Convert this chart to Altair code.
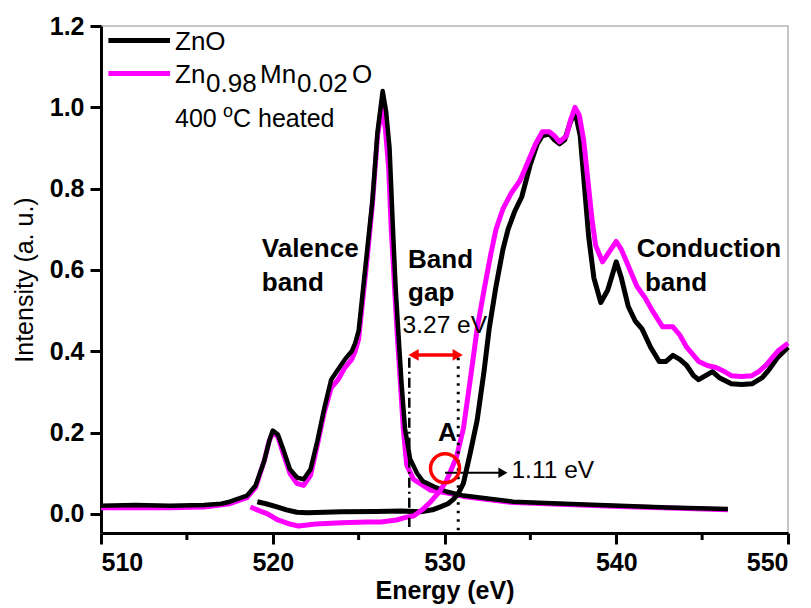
import altair as alt
import pandas as pd

# ---------------- data ----------------
# ZnO valence band (emission)
zno_vb_e = [510, 512, 514, 516, 517, 517.5, 518.5, 519.0, 519.5, 519.8, 520.0, 520.3, 520.6,
            521.0, 521.4, 521.8, 522.2, 522.6, 523.0, 523.4, 523.8, 524.2, 524.6, 524.8, 525.0,
            525.2, 525.5, 525.8, 526.1, 526.4, 526.6, 526.8, 527.0, 527.15, 527.3, 527.5, 527.7,
            528.0, 528.4, 528.75, 529.5, 530.1, 531.1, 534.0, 537.0, 540.2, 543.0, 546.5]
zno_vb_i = [0.02, 0.022, 0.02, 0.022, 0.025, 0.03, 0.045, 0.07, 0.13, 0.18, 0.205, 0.195, 0.16,
            0.11, 0.09, 0.085, 0.11, 0.18, 0.26, 0.33, 0.355, 0.38, 0.40, 0.42, 0.45,
            0.53, 0.65, 0.77, 0.94, 1.04, 0.99, 0.90, 0.70, 0.56, 0.455, 0.32, 0.21,
            0.135, 0.10, 0.08, 0.065, 0.055, 0.045, 0.03, 0.025, 0.02, 0.016, 0.012]

# Zn0.98Mn0.02O valence band (emission)
mn_vb_e = [510, 512, 514, 516, 517.5, 518.5, 519.0, 519.5, 519.8, 520.0, 520.3, 520.6, 521.0,
           521.4, 521.8, 522.2, 522.6, 523.0, 523.4, 523.8, 524.2, 524.6, 524.8, 525.0, 525.2,
           525.5, 525.8, 526.1, 526.35, 526.55, 526.75, 526.9, 527.1, 527.25, 527.45, 527.6,
           527.8, 528.2, 528.75, 529.2, 530.1, 531.1, 534.0, 540.2, 546.5]
mn_vb_i = [0.015, 0.016, 0.015, 0.017, 0.025, 0.04, 0.065, 0.13, 0.18, 0.20, 0.19, 0.15, 0.10,
           0.075, 0.07, 0.095, 0.17, 0.25, 0.31, 0.33, 0.36, 0.38, 0.40, 0.43, 0.51,
           0.63, 0.76, 0.93, 1.00, 0.95, 0.85, 0.70, 0.55, 0.44, 0.31, 0.21,
           0.12, 0.085, 0.07, 0.058, 0.052, 0.043, 0.028, 0.018, 0.010]

# ZnO conduction band (absorption)
zno_cb_e = [519.1, 519.6, 520.2, 520.8, 521.4, 522.0, 524.0, 526.0, 527.5, 528.6, 529.3, 529.8,
            530.2, 530.5, 530.8, 531.1, 531.5, 531.9, 532.3, 532.6, 533.0, 533.4, 533.7, 534.1,
            534.5, 535.0, 535.4, 535.7, 536.1, 536.4, 536.7, 537.0, 537.3, 537.6, 537.9, 538.2,
            538.4, 538.7, 539.1, 539.5, 540.0, 540.3, 540.7, 541.1, 541.5, 542.0, 542.5, 542.9,
            543.3, 543.7, 544.1, 544.5, 544.8, 545.2, 545.6, 546.0, 546.7, 547.3, 547.9, 548.5,
            548.9, 549.4, 550.0]
zno_cb_i = [0.03, 0.025, 0.018, 0.01, 0.004, 0.003, 0.005, 0.006, 0.007, 0.005, 0.01, 0.018,
            0.025, 0.035, 0.05, 0.075, 0.15, 0.23, 0.35, 0.455, 0.56, 0.65, 0.70, 0.745,
            0.78, 0.86, 0.91, 0.93, 0.935, 0.92, 0.91, 0.92, 0.96, 0.99, 0.93, 0.78,
            0.68, 0.58, 0.52, 0.55, 0.62, 0.58, 0.51, 0.475, 0.455, 0.41, 0.375, 0.375,
            0.39, 0.38, 0.365, 0.34, 0.33, 0.34, 0.35, 0.335, 0.32, 0.318, 0.32, 0.335,
            0.355, 0.385, 0.41]

# Zn0.98Mn0.02O conduction band (absorption)
mn_cb_e = [518.7, 519.2, 519.7, 520.3, 521.0, 521.5, 522.5, 524.0, 525.5, 526.3, 527.2, 527.8,
           528.2, 528.7, 529.2, 529.7, 530.1, 530.4, 530.7, 531.1, 531.5, 531.9, 532.3, 532.7,
           533.0, 533.4, 533.9, 534.4, 534.9, 535.3, 535.7, 536.1, 536.4, 536.7, 537.1, 537.35,
           537.6, 537.85, 538.1, 538.4, 538.6, 538.8, 539.2, 539.6, 540.0, 540.3, 540.6, 541.2,
           541.7, 542.1, 542.7, 543.3, 543.7, 544.1, 544.8, 545.3, 545.8, 546.3, 546.7, 547.3,
           547.9, 548.3, 548.7, 549.1, 549.4, 550.0]
mn_cb_i = [0.017, 0.008, 0.0, -0.015, -0.025, -0.03, -0.025, -0.022, -0.02, -0.02, -0.015, -0.008,
           -0.005, 0.01, 0.03, 0.055, 0.08, 0.11, 0.14, 0.21, 0.33, 0.455, 0.55, 0.64,
           0.70, 0.75, 0.79, 0.82, 0.87, 0.91, 0.94, 0.94, 0.93, 0.915, 0.93, 0.97,
           1.00, 0.98, 0.92, 0.80, 0.72, 0.66, 0.62, 0.645, 0.67, 0.65, 0.62, 0.56,
           0.53, 0.50, 0.46, 0.46, 0.44, 0.41, 0.375, 0.365, 0.36, 0.35, 0.34, 0.338,
           0.34, 0.35, 0.365, 0.385, 0.40, 0.42]

x_major = [510, 520, 530, 540, 550]
x_minor = [515, 525, 535, 545]
y_ticks = [0.0, 0.2, 0.4, 0.6, 0.8, 1.0, 1.2]

FONT = "Liberation Sans"
BLACK = "#000000"
MAG = "#FF00FF"
RED = "#FF0000"


def df(e, i):
    return pd.DataFrame({"e": e, "i": i})


x_enc = alt.X("e:Q",
              scale=alt.Scale(domain=[510, 550], nice=False, zero=False),
              axis=alt.Axis(values=x_major, title="Energy (eV)", format="d",
                            titleFontWeight="bold", titlePadding=3))
y_enc = alt.Y("i:Q",
              scale=alt.Scale(domain=[-0.047, 1.2], nice=False, zero=False),
              axis=alt.Axis(values=y_ticks, format=".1f", title="Intensity (a. u.)",
                            titleFontWeight="normal", titlePadding=12))


def line(e, i, color, width):
    return alt.Chart(df(e, i)).mark_line(color=color, strokeWidth=width,
                                         strokeJoin="round").encode(x=x_enc, y=y_enc)


layers = [
    line(mn_vb_e, mn_vb_i, MAG, 5),
    line(zno_vb_e, zno_vb_i, BLACK, 4.5),
    line(zno_cb_e, zno_cb_i, BLACK, 5),
    line(mn_cb_e, mn_cb_i, MAG, 5),
]

# minor x ticks
minor = alt.Chart(pd.DataFrame({"e": x_minor})).mark_rule(color=BLACK, strokeWidth=3).encode(
    x=x_enc, y=alt.value(507), y2=alt.value(514))
layers.append(minor)

# legend lines
leg = pd.DataFrame({"e": [510.43, 510.43], "e2": [514.02, 514.02], "i": [1.1643, 1.083],
                    "s": ["ZnO", "Mn"]})
layers.append(alt.Chart(leg).mark_rule(strokeWidth=5).encode(
    x=x_enc, x2="e2:Q", y=y_enc,
    color=alt.Color("s:N", scale=alt.Scale(domain=["ZnO", "Mn"], range=[BLACK, MAG]), legend=None)))


def text(t, e, i, size=26, weight="normal", dx=0, dy=0, color=BLACK):
    return alt.Chart(pd.DataFrame({"e": [e], "i": [i], "t": [t]})).mark_text(
        align="left", baseline="alphabetic", font=FONT, fontSize=size, fontWeight=weight,
        color=color, dx=dx, dy=dy).encode(x=x_enc, y=y_enc, text="t:N")


# legend text
layers += [
    text("ZnO", 514.31, 1.142),
    text("Zn", 514.31, 1.060),
    text("0.98", 514.31, 1.060, dx=31, dy=9.5),
    text("Mn", 514.31, 1.060, dx=85),
    text("0.02", 514.31, 1.060, dx=122, dy=9.5),
    text("O", 514.31, 1.060, dx=177),
    text("400", 514.31, 0.952, size=25),
    text("o", 514.31, 0.952, size=18, dx=48, dy=-10),
    text("C heated", 514.31, 0.952, size=25, dx=58),
]

# annotation text
layers += [
    text("Valence", 519.36, 0.633, weight="bold"),
    text("band", 519.36, 0.547, weight="bold"),
    text("Band", 527.88, 0.605, weight="bold"),
    text("gap", 527.88, 0.5226, weight="bold"),
    text("3.27 eV", 527.56, 0.445, size=24.5),
    text("A", 529.62, 0.180, weight="bold"),
    text("1.11 eV", 533.9, 0.088, size=24.5),
    text("Conduction", 541.19, 0.633, weight="bold"),
    text("band", 541.67, 0.547, weight="bold"),
]

# band-gap vertical markers
dashdot = pd.DataFrame({"e": [527.95], "i": [0.384], "i2": [-0.032]})
layers.append(alt.Chart(dashdot).mark_rule(color=BLACK, strokeWidth=2.5,
                                           strokeDash=[10, 4, 2, 4]).encode(
    x=x_enc, y=y_enc, y2="i2:Q"))
dotted = pd.DataFrame({"e": [530.8], "i": [0.384], "i2": [-0.047]})
layers.append(alt.Chart(dotted).mark_rule(color=BLACK, strokeWidth=3,
                                          strokeDash=[2.5, 6]).encode(
    x=x_enc, y=y_enc, y2="i2:Q"))

# red double arrow
red_arrow = pd.DataFrame({"e": [528.15], "e2": [530.8], "i": [0.391]})
layers.append(alt.Chart(red_arrow).mark_rule(color=RED, strokeWidth=3.5).encode(
    x=x_enc, x2="e2:Q", y=y_enc))
layers.append(alt.Chart(pd.DataFrame({"e": [528.2], "i": [0.391]})).mark_point(
    shape="triangle-left", filled=True, color=RED, size=140, opacity=1).encode(x=x_enc, y=y_enc))
layers.append(alt.Chart(pd.DataFrame({"e": [530.77], "i": [0.391]})).mark_point(
    shape="triangle-right", filled=True, color=RED, size=140, opacity=1).encode(x=x_enc, y=y_enc))

# circle A and black arrow to 1.11 eV
layers.append(alt.Chart(pd.DataFrame({"e": [530.03], "e2": [533.4], "i": [0.101]})).mark_rule(
    color=BLACK, strokeWidth=2).encode(x=x_enc, x2="e2:Q", y=y_enc))
layers.append(alt.Chart(pd.DataFrame({"e": [533.4], "i": [0.101]})).mark_point(
    shape="triangle-right", filled=True, color=BLACK, size=110, opacity=1).encode(x=x_enc, y=y_enc))
layers.append(alt.Chart(pd.DataFrame({"e": [530.03], "i": [0.1125]})).mark_point(
    shape="circle", filled=False, color=RED, strokeWidth=3.5, size=840, opacity=1).encode(
    x=x_enc, y=y_enc))

chart = alt.layer(*layers).properties(
    width=687, height=507,
    autosize=alt.AutoSizeParams(type="none"),
    padding={"left": 93, "top": 18, "right": 15, "bottom": 75},
).configure_view(
    stroke="#b4b4b4", strokeWidth=1.5
).configure_axis(
    grid=False, domainColor=BLACK, domainWidth=3, tickColor=BLACK, tickWidth=3, tickSize=11,
    labelFont=FONT, labelFontSize=25, labelFontWeight="bold", labelColor=BLACK, labelPadding=6,
    titleFont=FONT, titleFontSize=25, titleColor=BLACK,
)

chart.save("out.html", embed_options={"renderer": "svg", "actions": False})
